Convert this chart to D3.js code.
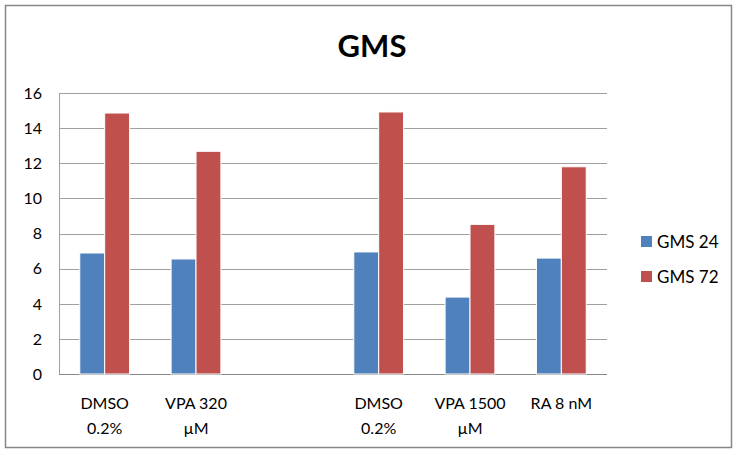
<!DOCTYPE html>
<html>
<head>
<meta charset="utf-8">
<script src="https://cdn.jsdelivr.net/npm/d3@7"></script>
<style>
  body { margin: 0; background: #fff; }
  text { font-family: Lato, "Open Sans", sans-serif; fill: #000; }
</style>
</head>
<body>
<div id="chart"></div>
<script>
// categories (empty slot between the two experiments)
const categories = ["c1", "c2", "gap", "c3", "c4", "c5"];
const categoryLabels = [["DMSO", "0.2%"], ["VPA 320", "µM"], [], ["DMSO", "0.2%"], ["VPA 1500", "µM"], ["RA 8 nM"]];
const seriesNames = ["GMS 24", "GMS 72"];
const gms24 = [6.89, 6.55, null, 6.95, 4.38, 6.6];
const gms72 = [14.86, 12.68, null, 14.92, 8.52, 11.8];
const yTicks = [0, 2, 4, 6, 8, 10, 12, 14, 16];

const width = 737, height = 453;
const margin = { top: 93, right: 130, bottom: 79, left: 59 };

const colors = d3.scaleOrdinal().domain(seriesNames).range(["#4F81BD", "#C0504D"]);

const data = categories.map((c, i) => ({ cat: c, values: [gms24[i], gms72[i]] }));

const svg = d3.select("#chart").append("svg")
    .attr("width", width)
    .attr("height", height);

svg.append("rect")
    .attr("x", 5.5).attr("y", 5.5)
    .attr("width", width - 11).attr("height", height - 11)
    .attr("fill", "#fff")
    .attr("stroke", "#868686")
    .attr("stroke-width", 1.5);

let x0 = d3.scaleBand()
    .domain(categories)
    .range([margin.left, width - margin.right])
    .paddingInner(0.455)
    .paddingOuter(0.2275);

let x1 = d3.scaleBand()
    .domain(seriesNames)
    .range([0, x0.bandwidth()]);

let y = d3.scaleLinear()
    .domain([0, 16])
    .range([height - margin.bottom, margin.top]);

// gridlines
svg.append("g")
    .selectAll("line")
    .data(yTicks)
    .join("line")
    .attr("x1", margin.left)
    .attr("x2", width - margin.right)
    .attr("y1", d => Math.round(y(d)) + 0.5)
    .attr("y2", d => Math.round(y(d)) + 0.5)
    .attr("stroke", d => d === 0 ? "#888" : "#a0a0a0")
    .attr("stroke-width", 1);

svg.append("line")
    .attr("x1", margin.left + 0.5).attr("x2", margin.left + 0.5)
    .attr("y1", y(16)).attr("y2", y(0))
    .attr("stroke", "#a0a0a0");

// bars
const group = svg.append("g")
    .selectAll("g")
    .data(data.filter(d => d.values[0] !== null))
    .join("g")
    .attr("transform", d => `translate(${x0(d.cat)},0)`);

group.selectAll("rect")
    .data(d => d.values.map((v, i) => ({ name: seriesNames[i], value: v })))
    .join("rect")
    .attr("x", d => x1(d.name))
    .attr("width", x1.bandwidth())
    .attr("y", d => y(d.value))
    .attr("height", d => y(0) - y(d.value))
    .attr("fill", d => colors(d.name))
    .attr("stroke", "#fff")
    .attr("stroke-width", 1);

// y tick labels
svg.append("g")
    .selectAll("text")
    .data(yTicks)
    .join("text")
    .attr("x", 42)
    .attr("y", d => y(d))
    .attr("dy", "0.36em")
    .attr("text-anchor", "end")
    .style("font-size", "16px")
    .text(d => d);

// category labels
const catLabel = svg.append("g")
    .selectAll("text")
    .data(categories.map((c, i) => ({ cat: c, lines: categoryLabels[i] })))
    .join("text")
    .attr("text-anchor", "middle")
    .style("font-size", "16px");

catLabel.selectAll("tspan")
    .data(d => d.lines.map(l => ({ cat: d.cat, line: l })))
    .join("tspan")
    .attr("x", d => x0(d.cat) + x0.bandwidth() / 2)
    .attr("y", (d, i) => 409 + i * 25)
    .text(d => d.line);

// title
svg.append("text")
    .attr("x", 372)
    .attr("y", 57)
    .attr("text-anchor", "middle")
    .style("font-size", "31px")
    .style("font-weight", "bold")
    .text("GMS");

// legend
const legend = svg.append("g")
    .selectAll("g")
    .data(seriesNames)
    .join("g")
    .attr("transform", (d, i) => `translate(641,${236 + i * 35})`);

legend.append("rect")
    .attr("width", 11).attr("height", 11)
    .attr("fill", d => colors(d));

legend.append("text")
    .attr("x", 16)
    .attr("y", 6)
    .attr("dy", "0.36em")
    .style("font-size", "17px")
    .text(d => d);
</script>
</body>
</html>
